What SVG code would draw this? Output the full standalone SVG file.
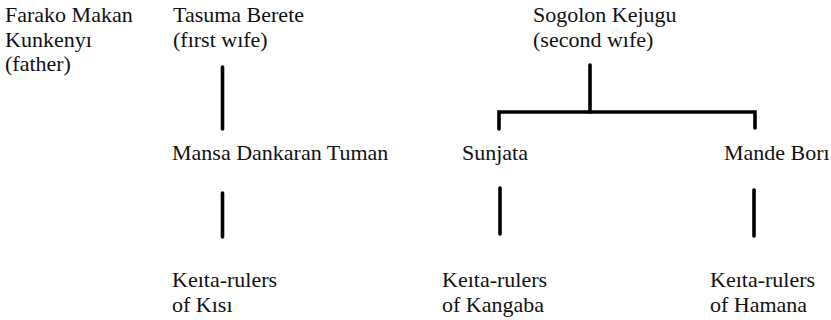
<svg xmlns="http://www.w3.org/2000/svg" width="831" height="320" viewBox="0 0 831 320">
<style>
text{font-family:"Liberation Serif","Times New Roman",serif;font-size:22px;fill:#111}
.c{stroke:#000;stroke-width:3.6;fill:none;stroke-linecap:round;stroke-linejoin:miter}
</style>
<rect width="831" height="320" fill="#fff"/>
<g id="father"><text x="5" y="22">Farako Makan</text><text x="5" y="47">Kunkenyı</text><text x="5" y="71">(father)</text></g>
<g id="tasuma"><text x="173" y="22">Tasuma Berete</text><text x="173" y="47">(fırst wıfe)</text></g>
<g id="sogolon"><text x="533" y="22">Sogolon Kejugu</text><text x="533" y="47">(second wıfe)</text></g>
<g id="mansa"><text x="172" y="160">Mansa Dankaran Tuman</text></g>
<g id="sunjata"><text x="462" y="160">Sunjata</text></g>
<g id="mandebori"><text x="724" y="160">Mande Borı</text></g>
<g id="kisi"><text x="172" y="287">Keıta-rulers</text><text x="172" y="312">of Kısı</text></g>
<g id="kangaba"><text x="442" y="287">Keıta-rulers</text><text x="442" y="312">of Kangaba</text></g>
<g id="hamana"><text x="710" y="287">Keıta-rulers</text><text x="710" y="312">of Hamana</text></g>
<g id="connectors">
<path class="c" d="M222.5 67V129"/>
<path class="c" d="M222.5 193V237"/>
<path class="c" d="M590 65V112"/>
<path class="c" d="M499 129V112H755V128"/>
<path class="c" d="M500 188V234"/>
<path class="c" d="M754 190V236"/>
</g>
</svg>
